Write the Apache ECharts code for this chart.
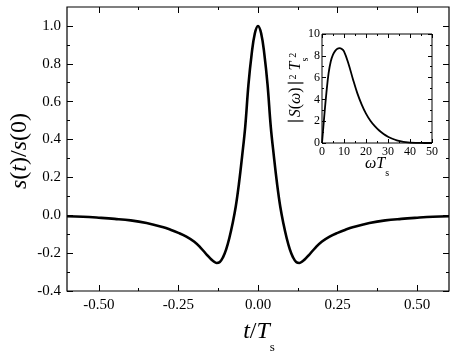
<!DOCTYPE html>
<html><head><meta charset="utf-8">
<script src="https://cdn.jsdelivr.net/npm/echarts@6/dist/echarts.min.js"></script>
<style>html,body{margin:0;padding:0;background:#fff}#c{width:463px;height:355px}</style>
</head><body><div id="c"></div>
<script>
// Main panel: normalized pulse s(t)/s(0) vs t/Ts
const tValues = [-0.6,-0.55,-0.5,-0.45,-0.4,-0.35,-0.3,-0.275,-0.25,-0.225,-0.2,-0.18,-0.16,-0.15,-0.14,-0.13,-0.12,-0.11,-0.1,-0.09,-0.08,-0.07,-0.06,-0.05,-0.04,-0.03,-0.02,-0.01,0,0.01,0.02,0.03,0.04,0.05,0.06,0.07,0.08,0.09,0.1,0.11,0.12,0.13,0.14,0.15,0.16,0.18,0.2,0.225,0.25,0.275,0.3,0.35,0.4,0.45,0.5,0.55,0.6];
const sValues = [-0.005,-0.008,-0.013,-0.019,-0.027,-0.041,-0.062,-0.076,-0.093,-0.113,-0.14,-0.172,-0.21,-0.228,-0.243,-0.252,-0.247,-0.222,-0.18,-0.12,-0.045,0.045,0.165,0.31,0.47,0.69,0.85,0.96,1.0,0.96,0.85,0.69,0.47,0.31,0.165,0.045,-0.045,-0.12,-0.18,-0.222,-0.247,-0.252,-0.243,-0.228,-0.21,-0.172,-0.14,-0.113,-0.093,-0.076,-0.062,-0.041,-0.027,-0.019,-0.013,-0.008,-0.005];
// Inset: spectrum |S(w)|^2 Ts^2 vs w Ts
const omegaValues = [0,1,2,3,4,5,6,7,8,9,10,12,14,16,18,20,22,24,26,28,30,32,34,36,38,40,45,50];
const spectrumValues = [0,2.4,4.6,6.4,7.5,8.1,8.45,8.65,8.7,8.62,8.4,7.3,5.9,4.6,3.55,2.7,2.05,1.55,1.15,0.83,0.58,0.39,0.25,0.15,0.08,0.04,0.005,0];
// Tick values
const mainXMajor = [-0.5,-0.25,0,0.25,0.5];
const mainXMinor = [-0.375,-0.125,0.125,0.375];
const mainYMajor = [-0.4,-0.2,0,0.2,0.4,0.6,0.8,1.0];
const mainYMinor = [-0.3,-0.1,0.1,0.3,0.5,0.7,0.9];
const insetXMajor = [0,10,20,30,40,50];
const insetXMinor = [5,15,25,35,45];
const insetYMajor = [0,2,4,6,8,10];
const insetYMinor = [1,3,5,7,9];

const F = 'Liberation Serif';
function axis(grid, pos, min, max, ticks, len, label) {
  return {
    type:'value', gridIndex:grid, position:pos, min:min, max:max,
    axisLine:{show:false,onZero:false},
    splitLine:{show:false},
    axisTick:{show:true,inside:true,length:len,customValues:ticks,lineStyle:{color:'#000',width:1}},
    axisLabel: label ? Object.assign({show:true,customValues:ticks,color:'#000',fontFamily:F}, label) : {show:false}
  };
}
const mainRect = {left:67, top:7, width:382, height:284};
const insetRect = {left:322, top:34, width:110, height:109};

const chart = echarts.init(document.getElementById('c'), null, {renderer:'canvas'});
chart.setOption({
  animation:false,
  backgroundColor:'#fff',
  grid:[
    Object.assign({show:true,borderColor:'#000',borderWidth:1.2,backgroundColor:'transparent'}, mainRect),
    Object.assign({show:false}, mainRect),
    Object.assign({show:true,borderColor:'#000',borderWidth:1,backgroundColor:'#fff'}, insetRect),
    Object.assign({show:false}, insetRect)
  ],
  xAxis:[
    axis(0,'bottom',-0.6,0.6,mainXMajor,6,{fontSize:15,margin:7,formatter:v=>v.toFixed(2)}),
    axis(0,'top',-0.6,0.6,mainXMajor,6,null),
    axis(1,'bottom',-0.6,0.6,mainXMinor,3,null),
    axis(1,'top',-0.6,0.6,mainXMinor,3,null),
    axis(2,'bottom',0,50,insetXMajor,4,{fontSize:12,margin:3,formatter:v=>String(v)}),
    axis(2,'top',0,50,insetXMajor,4,null),
    axis(3,'bottom',0,50,insetXMinor,2,null),
    axis(3,'top',0,50,insetXMinor,2,null)
  ],
  yAxis:[
    axis(0,'left',-0.4,1.1,mainYMajor,6,{fontSize:15,margin:6,formatter:v=>v.toFixed(1)}),
    axis(0,'right',-0.4,1.1,mainYMajor,6,null),
    axis(1,'left',-0.4,1.1,mainYMinor,3,null),
    axis(1,'right',-0.4,1.1,mainYMinor,3,null),
    axis(2,'left',0,10,insetYMajor,4,{fontSize:12,margin:2,formatter:v=>String(v)}),
    axis(2,'right',0,10,insetYMajor,4,null),
    axis(3,'left',0,10,insetYMinor,2,null),
    axis(3,'right',0,10,insetYMinor,2,null)
  ],
  series:[
    {type:'line', xAxisIndex:0, yAxisIndex:0, data:tValues.map((t,i)=>[t,sValues[i]]),
     showSymbol:false, smooth:0.4, lineStyle:{color:'#000',width:2.6}, silent:true},
    {type:'line', xAxisIndex:4, yAxisIndex:4, data:omegaValues.map((w,i)=>[w,spectrumValues[i]]),
     showSymbol:false, smooth:0.4, lineStyle:{color:'#000',width:1.8}, silent:true}
  ],
  graphic:[
    {type:'text', x:20, y:151, rotation:Math.PI/2,
     style:{text:'{i|s}{n|(}{i|t}{n|)/}{i|s}{n|(0)}', textAlign:'center', textVerticalAlign:'middle', fill:'#000',
       rich:{i:{fontFamily:F,fontSize:24,fontStyle:'italic',lineHeight:30},n:{fontFamily:F,fontSize:24,lineHeight:30}}}},
    {type:'text', x:259, y:320,
     style:{text:'{i|t}{n|/}{i|T}{sub|s}', textAlign:'center', textVerticalAlign:'top', fill:'#000',
       rich:{i:{fontFamily:F,fontSize:24,fontStyle:'italic',lineHeight:30,verticalAlign:'top'},
             n:{fontFamily:F,fontSize:24,lineHeight:30,verticalAlign:'top'},
             sub:{fontFamily:F,fontSize:13,lineHeight:56,verticalAlign:'middle'}}}},
    {type:'text', x:305, y:89, rotation:Math.PI/2,
     style:{text:'{n|\u2223}{i|S}{n|(}{i|\u03c9}{n|)\u2223}{sup|2}{n| }{i|T}{sub|s}{sup|2}', textAlign:'center', textVerticalAlign:'middle', fill:'#000',
       rich:{i:{fontFamily:F,fontSize:16,fontStyle:'italic',lineHeight:20,verticalAlign:'top'},
             n:{fontFamily:F,fontSize:16,lineHeight:20,verticalAlign:'top'},
             sup:{fontFamily:F,fontSize:10,lineHeight:10,verticalAlign:'top'},
             sub:{fontFamily:F,fontSize:10,lineHeight:34,verticalAlign:'middle'}}}},
    {type:'text', x:377, y:156,
     style:{text:'{i|\u03c9T}{sub|s}', textAlign:'center', textVerticalAlign:'top', fill:'#000',
       rich:{i:{fontFamily:F,fontSize:16,fontStyle:'italic',lineHeight:20,verticalAlign:'top'},
             sub:{fontFamily:F,fontSize:10,lineHeight:34,verticalAlign:'middle'}}}}
  ]
});
</script></body></html>
